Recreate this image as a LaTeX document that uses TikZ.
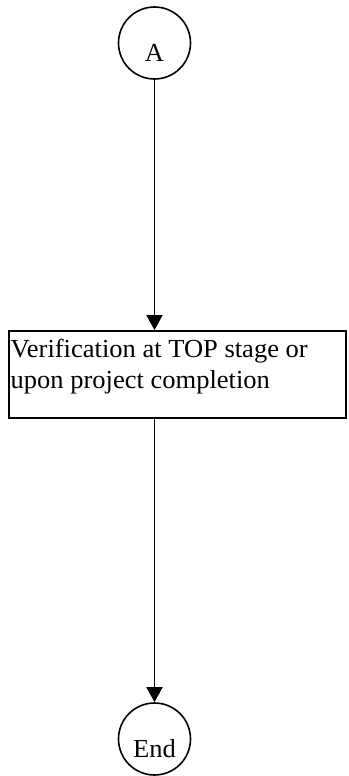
\documentclass[tikz,border=0pt]{standalone}
\usepackage{fontspec}
\setmainfont{Liberation Serif}[FakeStretch=1.02]
\usetikzlibrary{arrows.meta}
\begin{document}
\begin{tikzpicture}[x=1pt,y=-1pt,
  term/.style={draw, line width=1.6pt, circle, minimum size=72pt, inner sep=0pt,
    text height=37pt, text depth=0pt, font=\fontsize{26}{29}\selectfont},
  procbox/.style={draw, line width=1.7pt, rectangle, minimum width=337pt, minimum height=87pt, inner sep=0pt},
  boxlabel/.style={anchor=base west, inner sep=0pt, align=left, font=\fontsize{26}{31}\selectfont},
  conn/.style={line width=1.5pt, -{Triangle[length=15pt,width=16pt]}}]
\useasboundingbox (0,0) rectangle (348,776);
\node[term] (A) at (154.5,43) {A};
\node[procbox] (box) at (177.5,374.5) {};
\node[boxlabel] (boxtext) at (10.5,388) {Verification at TOP stage or\\upon project completion};
\node[term] (E) at (154.5,739) {End};
\draw[conn] (A) -- (box.north -| A);
\draw[conn] (box.south -| E) -- (E);
\end{tikzpicture}
\end{document}
